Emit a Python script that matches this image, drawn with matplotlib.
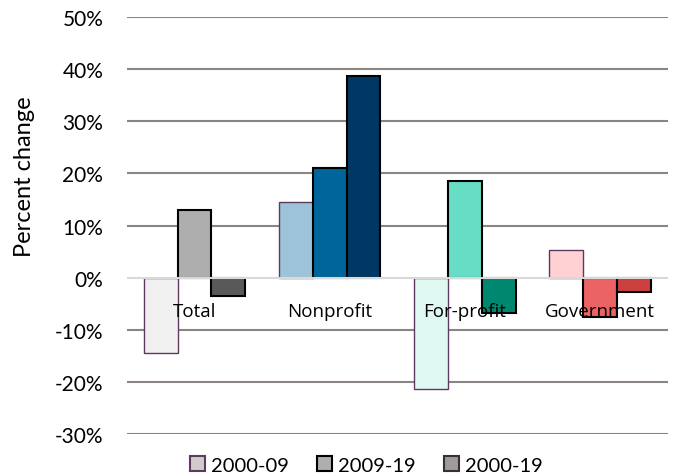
import numpy as np
import matplotlib.pyplot as plt
from matplotlib.patches import Patch

categories = ['Total', 'Nonprofit', 'For-profit', 'Government']
periods = ['2000-09', '2009-19', '2000-19']
change_0009 = [-14.5, 14.6, -21.3, 5.4]
change_0919 = [13.0, 21.1, 18.5, -7.5]
change_0019 = [-3.5, 38.7, -6.8, -2.8]

colors = [
    ['#F0F0F0', '#AEAEAE', '#595959'],
    ['#9DC3D9', '#00659A', '#003865'],
    ['#E0F8F2', '#66DDC4', '#00876F'],
    ['#FFD1D3', '#EB6363', '#CC4040'],
]

plt.rcParams['font.family'] = ['Lato', 'DejaVu Sans']

fig = plt.figure(figsize=(6.78, 4.77), dpi=100)
ax = fig.add_axes([0.187, 0.088, 0.798, 0.874])

x = np.arange(len(categories))
w = 0.25
series = [change_0009, change_0919, change_0019]
for j, vals in enumerate(series):
    for i, v in enumerate(vals):
        edge = '#5E3A5E' if j == 0 else '#000000'
        lw = 1.0 if j == 0 else 1.5
        ax.bar(x[i] + (j - 1) * w, v / 100, width=w, color=colors[i][j],
               edgecolor=edge, linewidth=lw, zorder=3)

for i, c in enumerate(categories):
    ax.text(x[i], -0.064, c, ha='center', va='center', fontsize=13.5,
            family='Open Sans', zorder=5)

ax.set_ylim(-0.3, 0.5)
ax.set_xlim(-0.5, 3.5)
ticks = np.arange(-0.3, 0.51, 0.1)
ax.set_yticks(ticks)
ax.set_yticklabels([f'{round(t * 100)}%' for t in ticks], fontsize=15)
ax.set_xticks([])
for t in ticks:
    if abs(t) < 1e-9:
        ax.axhline(0, color='#D9D9D9', linewidth=1.5, zorder=4)
    else:
        ax.axhline(t, color='#8C8480', linewidth=1.5, zorder=1)
ax.tick_params(axis='y', length=0, pad=17)
for s in ax.spines.values():
    s.set_visible(False)
ax.set_ylabel('Percent change', fontsize=17)
ax.yaxis.set_label_coords(-0.17, 0.62)

handles = [
    Patch(facecolor='#D0CCCC', edgecolor='#5E3A5E', linewidth=1.5),
    Patch(facecolor='#AEAEAE', edgecolor='#000000', linewidth=1.5),
    Patch(facecolor='#A09A98', edgecolor='#333333', linewidth=1.5),
]
fig.legend(handles, periods, loc='center', bbox_to_anchor=(0.54, 0.023),
           ncol=3, frameon=False, fontsize=14.5, handlelength=0.75,
           handleheight=0.75, handletextpad=0.3, columnspacing=1.4,
           borderpad=0)

fig.savefig('out.png', dpi=100)
